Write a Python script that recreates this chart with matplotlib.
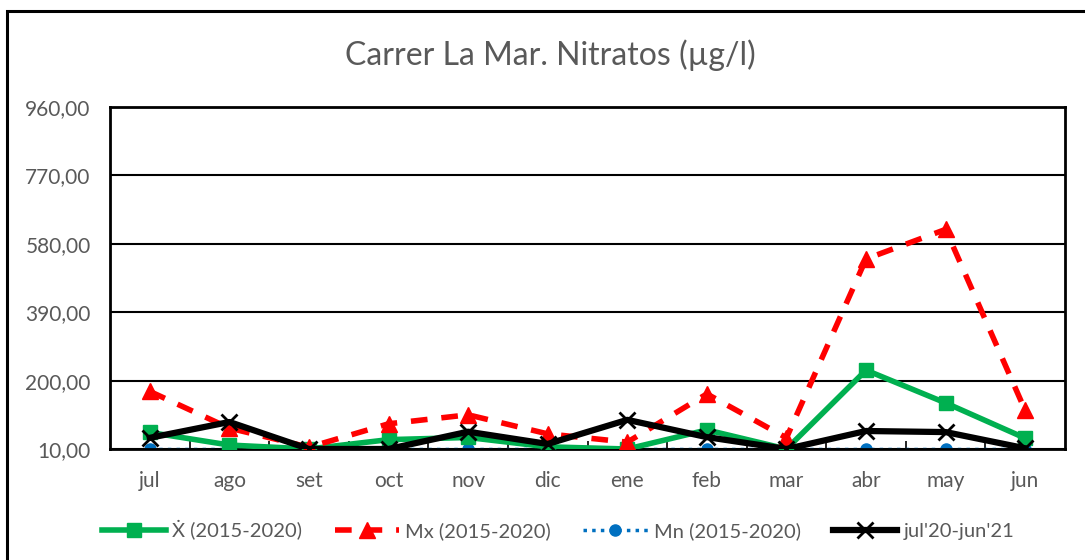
import matplotlib
matplotlib.use('Agg')
import matplotlib.pyplot as plt
from matplotlib.patches import Rectangle

plt.rcParams['font.family'] = ['Lato', 'DejaVu Sans']

months = ['jul', 'ago', 'set', 'oct', 'nov', 'dic', 'ene', 'feb', 'mar', 'abr', 'may', 'jun']
media = [56, 21, 10, 36, 42, 16, 10, 63, 10, 229, 138, 40]
maximo = [170, 68, 15, 80, 105, 52, 29, 163, 41, 538, 620, 117]
minimo = [10, 10, 10, 10, 10, 10, 10, 10, 10, 10, 10, 10]
actual = [41, 85, 10, 10, 58, 24, 91, 43, 10, 60, 57, 12]
yticks = [10, 200, 390, 580, 770, 960]

grey = '#595959'

fig = plt.figure(figsize=(10.85, 5.6), dpi=100)
fig.patches.append(Rectangle((7 / 1085, -0.1), 1.2, 1 - 11 / 560 + 0.1, transform=fig.transFigure,
                             fill=False, edgecolor='black', linewidth=2.2))
ax = fig.add_axes([110 / 1085, 1 - 449 / 560, 955 / 1085, 342 / 560])

x = list(range(len(months)))
ax.plot(x, minimo, color='#0070C0', linestyle=(0, (1, 1.5)), linewidth=2.5,
        marker='o', markersize=8, label='Mn (2015-2020)', zorder=2)
ax.plot(x, media, color='#00B050', linewidth=4, marker='s', markersize=10,
        label='Ẋ (2015-2020)', zorder=3)
ax.plot(x, maximo, color='#FF0000', linestyle=(0, (3, 2.5)), linewidth=4,
        marker='^', markersize=11, label='Mx (2015-2020)', zorder=4)
ax.plot(x, actual, color='black', linewidth=4.5, marker='x', markersize=11,
        markeredgewidth=2, label="jul'20-jun'21", zorder=5)

ax.set_xlim(-0.5, 11.5)
ax.set_ylim(10, 960)
ax.set_yticks(yticks)
ax.set_yticklabels([('%.2f' % v).replace('.', ',') for v in yticks])
ax.set_xticks(x)
ax.set_xticklabels(months)
ax.set_xticks([i + 0.5 for i in range(11)], minor=True)
ax.tick_params(axis='x', which='major', length=0, pad=16, labelsize=15, labelcolor=grey)
ax.tick_params(axis='x', which='minor', direction='in', length=6, width=1.2)
ax.tick_params(axis='y', length=0, pad=14, labelsize=15, labelcolor=grey)
ax.grid(axis='y', color='black', linewidth=1.5)
ax.set_axisbelow(True)
for s in ax.spines.values():
    s.set_linewidth(2)
    s.set_color('black')

fig.text(550 / 1085, 1 - 55 / 560, 'Carrer La Mar. Nitratos (µg/l)', ha='center', va='center',
         fontsize=23, color=grey)

h, l = ax.get_legend_handles_labels()
order = [1, 2, 0, 3]
fig.legend([h[i] for i in order], [l[i] for i in order], loc='center',
           bbox_to_anchor=(558 / 1085, 1 - 530 / 560), ncol=4, frameon=False,
           fontsize=14.5, labelcolor=grey, handlelength=3.2, columnspacing=1.6, handletextpad=0.3)

fig.savefig('out.png', dpi=100)
